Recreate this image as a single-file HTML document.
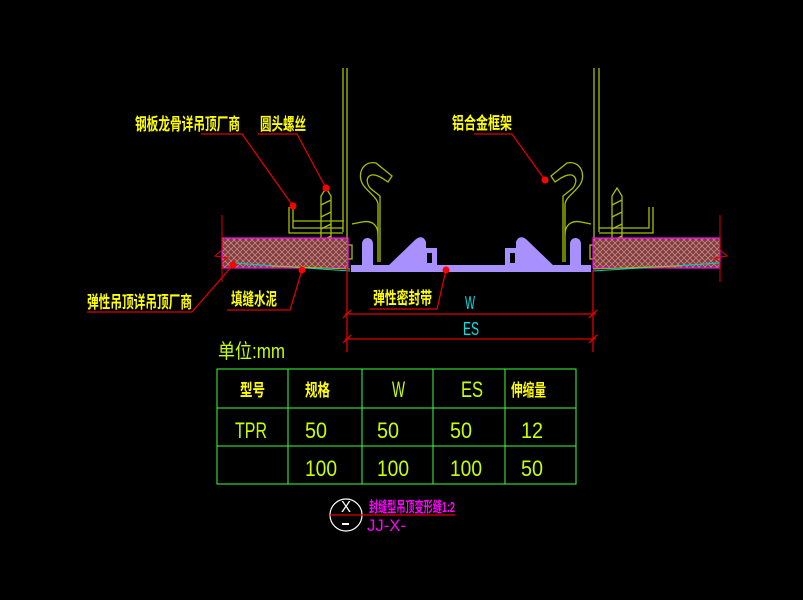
<!DOCTYPE html>
<html><head><meta charset="utf-8"><style>
html,body{margin:0;padding:0;background:#000;}
svg{display:block;}
text{font-family:"Liberation Sans","Noto Sans CJK SC",sans-serif;}
</style></head><body>
<svg width="803" height="600" viewBox="0 0 803 600" xmlns="http://www.w3.org/2000/svg">
<defs>
<pattern id="hx" width="6" height="6" patternUnits="userSpaceOnUse">
<rect width="6" height="6" fill="#7a4040"/>
<path d="M0 0L6 6M6 0L0 6" stroke="#d08080" stroke-width="0.8"/>
</pattern>
</defs>
<rect width="803" height="600" fill="#000"/>
<g stroke="#a8c000" stroke-width="1.3" fill="none">
<line x1="343" y1="68" x2="343" y2="232"/>
<line x1="347" y1="68" x2="347" y2="238"/>
<line x1="594" y1="68" x2="594" y2="238"/>
<line x1="599" y1="68" x2="599" y2="232"/>
<path d="M289 207 V233 H343 M293 207 V228 H343 M293 221 H344"/>
<path d="M321 267 V196 L326 188 L331 196 V267 Z M321 205 L331 200 M321 217 L331 212 M321 229 L331 224 M321 241 L331 236 M321 253 L331 248"/>
<path d="M653 207 V233 H599 M649 207 V228 H599"/>
<path d="M612 267 V196 L617 188 L622 196 V267 Z M612 205 L622 200 M612 217 L622 212 M612 229 L622 224 M612 241 L622 236 M612 253 L622 248"/>
<path d="M378 262 V235 C378 225 372 220 362 222 L352 224 M378 235 V205 C378 198 370 194 364 186 C356 176 362 160 376 163 L392 176 L388 182 L382 178 L378 176 C368 172 364 180 370 188 L380 196 V262"/>
<path d="M565 262 V235 C565 225 571 220 581 222 L591 224 M565 235 V205 C565 198 573 194 579 186 C587 176 581 160 567 163 L551 176 L555 182 L561 178 L565 176 C575 172 579 180 573 188 L563 196 V262"/>
<rect x="348" y="245" width="4" height="14"/>
<rect x="590" y="245" width="4" height="14"/>
</g>
<rect x="222" y="238" width="126" height="30" fill="url(#hx)" stroke="#ff00ff" stroke-width="1.2"/>
<rect x="593" y="238" width="127" height="30" fill="url(#hx)" stroke="#ff00ff" stroke-width="1.2"/>
<path d="M232 263 L350 271 M720 263 L593 271" stroke="#00d0d0" stroke-width="1"/>
<path d="M270 266 L350 269 M680 266 L593 269" stroke="#a8c000" stroke-width="1"/>
<g fill="#a890ff">
<rect x="351" y="265" width="240" height="7"/>
<path d="M362 266 V244 C362 236 373 236 373 244 V266 Z"/>
<path d="M570 266 V244 C570 236 581 236 581 244 V266 Z"/>
<path d="M388 266 L415 240 C419 236 424 236 426 242 V248 H437 V266 Z"/>
<path d="M554 266 L527 240 C523 236 518 236 516 242 V248 H505 V266 Z"/>
</g>
<g fill="#000"><rect x="427" y="253" width="5" height="10"/><rect x="510" y="253" width="5" height="10"/></g>
<path d="M222 215 V250 L215 256 L228 258 L222 262 V282" stroke="#e00000" fill="none" stroke-width="1"/>
<path d="M720 215 V250 L727 256 L714 258 L720 262 V282" stroke="#e00000" fill="none" stroke-width="1"/>
<g stroke="#e00000" stroke-width="1.3" fill="none">
<polyline points="201,134 242,134 293,206"/>
<polyline points="258,134 297,134 326,188"/>
<polyline points="474,134 512,134 545,180"/>
<polyline points="87,312 192,312 233,265"/>
<polyline points="227,310 290,310 302,270"/>
<polyline points="370,309 437,309 446,270"/>
<line x1="347" y1="268" x2="347" y2="352"/>
<line x1="593" y1="270" x2="593" y2="352"/>
<line x1="345" y1="314" x2="596" y2="314"/>
<line x1="345" y1="339" x2="596" y2="339"/>
<path d="M343 318 L351 310 M589 318 L597 310 M343 343 L351 335 M589 343 L597 335"/>
</g>
<g fill="#ff0000">
<circle cx="293" cy="206" r="3.5"/><circle cx="326" cy="188" r="3.5"/>
<circle cx="545" cy="180" r="3.5"/><circle cx="233" cy="265" r="3.5"/>
<circle cx="302" cy="270" r="3.5"/><circle cx="446" cy="270" r="3.5"/>
</g>
<g fill="#ffff00" font-size="17" font-weight="bold">
<text x="135" y="130" textLength="105" lengthAdjust="spacingAndGlyphs">钢板龙骨详吊顶厂商</text>
<text x="260" y="130" textLength="46" lengthAdjust="spacingAndGlyphs">圆头螺丝</text>
<text x="452" y="129" textLength="60" lengthAdjust="spacingAndGlyphs">铝合金框架</text>
<text x="87" y="308" textLength="105" lengthAdjust="spacingAndGlyphs">弹性吊顶详吊顶厂商</text>
<text x="231" y="305" textLength="46" lengthAdjust="spacingAndGlyphs">填缝水泥</text>
<text x="373" y="304" textLength="59" lengthAdjust="spacingAndGlyphs">弹性密封带</text>
</g>
<g fill="#00e0e0" font-size="18">
<text x="465" y="309" textLength="10" lengthAdjust="spacingAndGlyphs">W</text>
<text x="463" y="335" textLength="16" lengthAdjust="spacingAndGlyphs">ES</text>
</g>
<text x="218" y="358" fill="#c8ff00" font-size="20" textLength="67" lengthAdjust="spacingAndGlyphs">单位:mm</text>
<g stroke="#40ff40" stroke-width="1" fill="none">
<rect x="217" y="369" width="359" height="115"/>
<line x1="217" y1="408" x2="576" y2="408"/>
<line x1="217" y1="446" x2="576" y2="446"/>
<line x1="288" y1="369" x2="288" y2="484"/>
<line x1="362" y1="369" x2="362" y2="484"/>
<line x1="433" y1="369" x2="433" y2="484"/>
<line x1="505" y1="369" x2="505" y2="484"/>
</g>
<g fill="#ffff00" font-size="17" font-weight="bold">
<text x="240" y="396" textLength="25" lengthAdjust="spacingAndGlyphs">型号</text>
<text x="305" y="396" textLength="25" lengthAdjust="spacingAndGlyphs">规格</text>
<text x="511" y="396" textLength="35" lengthAdjust="spacingAndGlyphs">伸缩量</text>
</g>
<g fill="#c8ff00" font-size="22">
<text x="392" y="397" textLength="13" lengthAdjust="spacingAndGlyphs">W</text>
<text x="461" y="397" textLength="22" lengthAdjust="spacingAndGlyphs">ES</text>
<text x="235" y="438" textLength="32" lengthAdjust="spacingAndGlyphs">TPR</text>
<text x="305" y="438" textLength="22" lengthAdjust="spacingAndGlyphs">50</text>
<text x="377" y="438" textLength="22" lengthAdjust="spacingAndGlyphs">50</text>
<text x="450" y="438" textLength="22" lengthAdjust="spacingAndGlyphs">50</text>
<text x="521" y="438" textLength="22" lengthAdjust="spacingAndGlyphs">12</text>
<text x="305" y="476" textLength="32" lengthAdjust="spacingAndGlyphs">100</text>
<text x="377" y="476" textLength="32" lengthAdjust="spacingAndGlyphs">100</text>
<text x="450" y="476" textLength="32" lengthAdjust="spacingAndGlyphs">100</text>
<text x="521" y="476" textLength="22" lengthAdjust="spacingAndGlyphs">50</text>
</g>
<circle cx="346" cy="515" r="16" fill="none" stroke="#ffffff" stroke-width="1.2"/>
<line x1="330" y1="515" x2="455" y2="515" stroke="#e00000" stroke-width="1.2"/>
<text x="341" y="512" fill="#ffffff" font-size="16" textLength="10" lengthAdjust="spacingAndGlyphs">X</text>
<rect x="342" y="523" width="7" height="2" fill="#fff"/>
<text x="369" y="512" fill="#ff00ff" font-size="15" font-weight="bold" textLength="86" lengthAdjust="spacingAndGlyphs">封缝型吊顶变形缝1:2</text>
<text x="367" y="531" fill="#ff00ff" font-size="17" textLength="39" lengthAdjust="spacingAndGlyphs">JJ-X-</text>
</svg>
</body></html>
